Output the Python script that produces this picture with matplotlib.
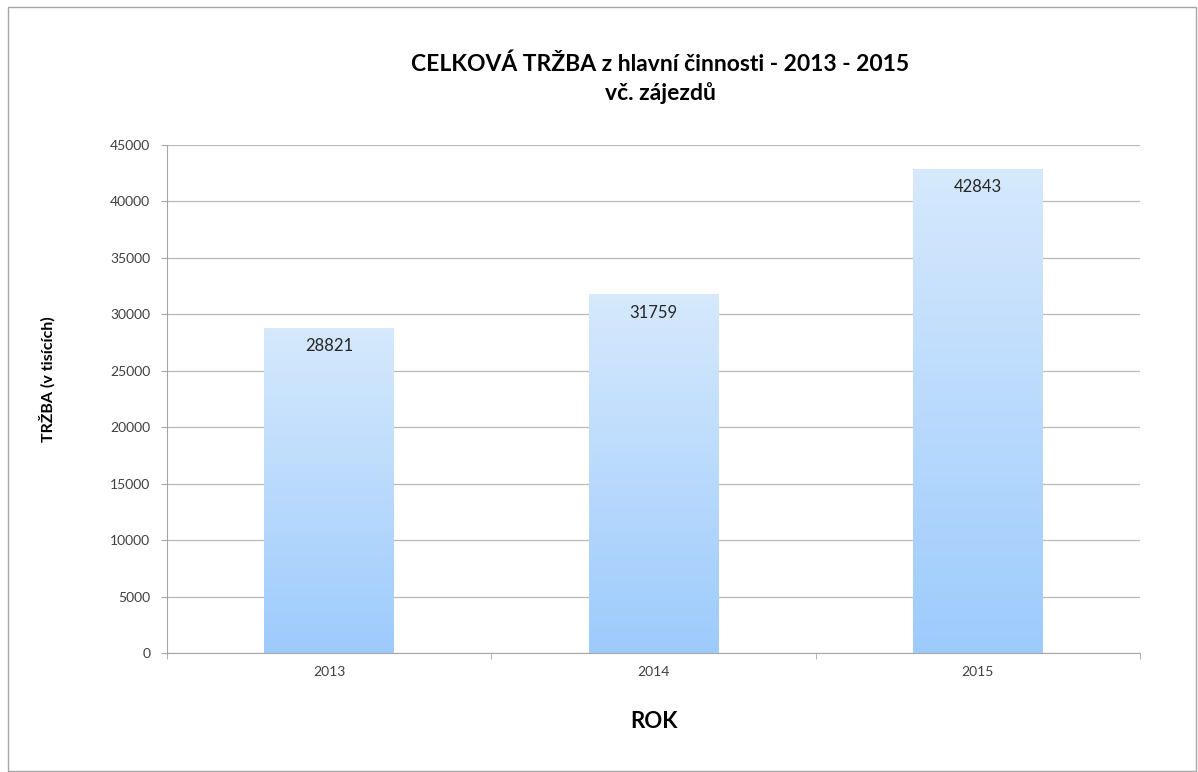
import matplotlib.pyplot as plt
import numpy as np
from matplotlib.colors import LinearSegmentedColormap
from matplotlib.patches import Rectangle

plt.rcParams['font.family'] = ['Lato', 'DejaVu Sans']

# data
years = ['2013', '2014', '2015']
trzba = [28821, 31759, 42843]

fig = plt.figure(figsize=(11.98, 7.72), dpi=100)
ax = fig.add_axes([0.1394, 0.1541, 0.8122, 0.6581])

# outer frame of the chart
fig.patches.append(Rectangle((0.0067, 0.001), 0.992, 0.990, transform=fig.transFigure,
                             fill=False, edgecolor='#a6a6a6', linewidth=1))

x = np.arange(len(years))
bars = ax.bar(x, trzba, width=0.4, color='none', edgecolor='none', zorder=3)

# gradient fill (light on top, darker blue at bottom)
cmap = LinearSegmentedColormap.from_list('grad', ['#9dcbfd', '#d6e9fc'])
grad = np.linspace(0, 1, 256).reshape(-1, 1)
for b in bars:
    x0, w, h = b.get_x(), b.get_width(), b.get_height()
    im = ax.imshow(grad, cmap=cmap, origin='lower', aspect='auto',
                   extent=[x0, x0 + w, 0, h], zorder=3)
    im.set_clip_path(b)

for xi, v in zip(x, trzba):
    ax.text(xi, v - 900, str(v), ha='center', va='top', fontsize=12, color='#262626', zorder=4)

ax.set_xlim(-0.5, 2.5)
ax.set_ylim(0, 45000)
ax.set_yticks(range(0, 45001, 5000))
ax.set_xticks(x)
ax.set_xticklabels(years)
ax.set_xticks([-0.5, 0.5, 1.5, 2.5], minor=True)
ax.tick_params(axis='x', which='major', length=0, pad=9, labelsize=10, labelcolor='#404040')
ax.tick_params(axis='x', which='minor', length=4, color='#a6a6a6', direction='out')
ax.tick_params(axis='y', length=4, color='#a6a6a6', pad=8, labelsize=10, labelcolor='#404040')

ax.grid(axis='y', color='#b8b8b8', linewidth=0.9, zorder=0)
ax.set_axisbelow(True)
for s in ['top', 'right']:
    ax.spines[s].set_visible(False)
ax.spines['left'].set_color('#a6a6a6')
ax.spines['bottom'].set_color('#a6a6a6')

ax.set_ylabel('TRŽBA (v tisících)', fontsize=11.5, fontweight='bold')
ax.yaxis.set_label_coords(-0.115, 0.54)
ax.set_xlabel('ROK', fontsize=16, fontweight='bold', labelpad=24)
fig.text(0.551, 0.898, 'CELKOVÁ TRŽBA z hlavní činnosti - 2013 - 2015\nvč. zájezdů',
         ha='center', va='center', fontsize=16.5, fontweight='bold', linespacing=1.35)

fig.savefig('out.png', dpi=100)
